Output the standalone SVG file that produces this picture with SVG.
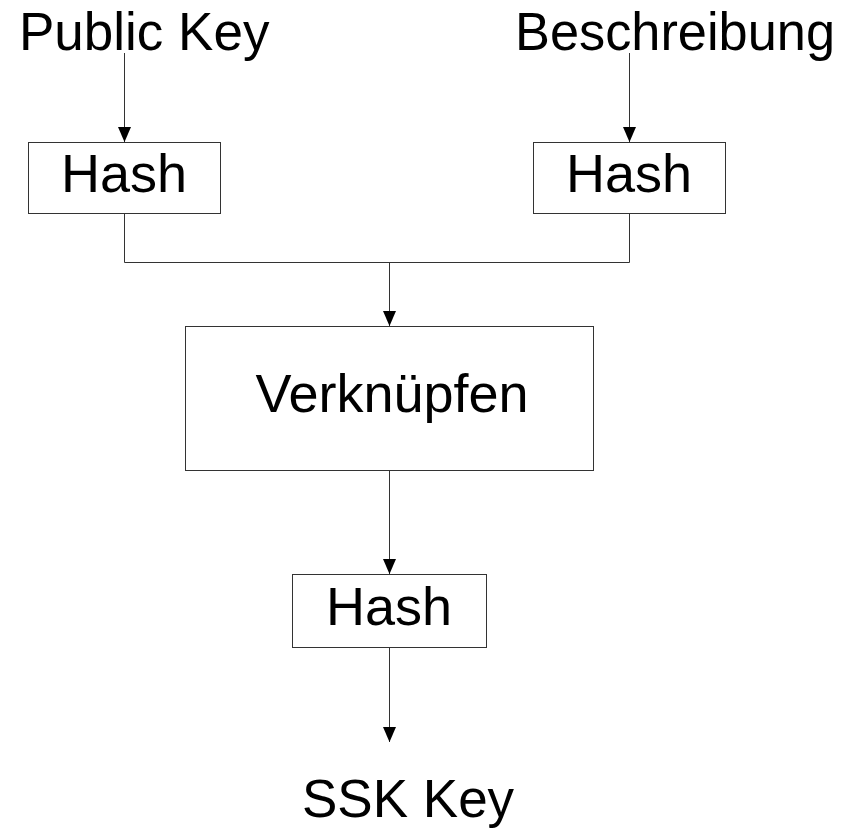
<svg xmlns="http://www.w3.org/2000/svg" width="852" height="829" viewBox="0 0 852 829">
  <style>
    .box { fill: #ffffff; stroke: #333333; stroke-width: 1; }
    .wire { fill: none; stroke: #333333; stroke-width: 1; }
    .lbl { font-family: "Liberation Sans", Arial, sans-serif; fill: #000000; }
    .big { font-size: 53px; }
    .box-lbl { font-size: 54px; text-anchor: middle; }
  </style>
  <defs>
    <marker id="arrow" viewBox="0 0 15 13" refX="15" refY="6.5" markerWidth="15" markerHeight="13" markerUnits="userSpaceOnUse" orient="auto">
      <path d="M0,0 L15,6.5 L0,13 z" fill="#000000"/>
    </marker>
  </defs>
  <rect width="852" height="829" fill="#ffffff"/>

  <!-- connectors -->
  <g id="connectors">
    <path class="wire" d="M124.5,53 V142" marker-end="url(#arrow)"/>
    <path class="wire" d="M629.5,53 V142" marker-end="url(#arrow)"/>
    <path class="wire" d="M124.5,213 V262.5 H629.5 V213"/>
    <path class="wire" d="M389.5,262.5 V326" marker-end="url(#arrow)"/>
    <path class="wire" d="M389.5,470 V574" marker-end="url(#arrow)"/>
    <path class="wire" d="M389.5,647 V742" marker-end="url(#arrow)"/>
  </g>

  <!-- inputs -->
  <g id="public-key">
    <text class="lbl big" x="19" y="50">Public Key</text>
  </g>
  <g id="beschreibung">
    <text class="lbl big" x="515" y="50" textLength="320" lengthAdjust="spacingAndGlyphs">Beschreibung</text>
  </g>

  <!-- hash of the public key -->
  <g id="hash-left">
    <rect class="box" x="28.5" y="142.5" width="192" height="71"/>
    <text class="lbl box-lbl" x="124" y="192">Hash</text>
  </g>

  <!-- hash of the description -->
  <g id="hash-right">
    <rect class="box" x="533.5" y="142.5" width="192" height="71"/>
    <text class="lbl box-lbl" x="629" y="192">Hash</text>
  </g>

  <!-- concatenation -->
  <g id="verknuepfen">
    <rect class="box" x="185.5" y="326.5" width="408" height="144"/>
    <text class="lbl box-lbl" x="392" y="412">Verknüpfen</text>
  </g>

  <!-- final hash -->
  <g id="hash-final">
    <rect class="box" x="292.5" y="574.5" width="194" height="73"/>
    <text class="lbl box-lbl" x="389" y="625">Hash</text>
  </g>

  <!-- result -->
  <g id="ssk-key">
    <text class="lbl big" x="302" y="817">SSK Key</text>
  </g>
</svg>
